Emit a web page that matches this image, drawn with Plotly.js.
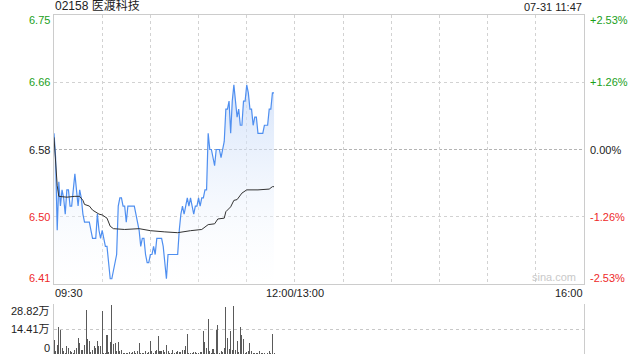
<!DOCTYPE html>
<html>
<head>
<meta charset="utf-8">
<script src="https://cdn.plot.ly/plotly-3.0.1.min.js"></script>
<style>html,body{margin:0;padding:0;background:#fff;}#chart{width:640px;height:360px;}</style>
</head>
<body>
<div id="chart"></div>
<script>
// ---- data ----
const titleText = '02158 医渡科技';
const stampText = '07-31 11:47';
const prevClose = 6.58;
// per-minute last price from 09:30 (minute 0) to 11:47 (minute 137)
const price = [
 6.60,6.57,6.48,6.54,6.51,6.53,6.52,6.50,6.53,6.53,
 6.51,6.51,6.53,6.55,6.53,6.51,6.53,6.52,6.50,6.49,
 6.49,6.49,6.49,6.48,6.47,6.47,6.47,6.50,6.48,6.47,
 6.48,6.47,6.46,6.46,6.44,6.42,6.42,6.43,6.44,6.45,
 6.51,6.52,6.52,6.51,6.51,6.49,6.51,6.51,6.51,6.51,
 6.51,6.50,6.49,6.48,6.46,6.47,6.47,6.45,6.44,6.44,
 6.45,6.45,6.46,6.45,6.47,6.47,6.47,6.47,6.46,6.44,
 6.42,6.45,6.45,6.45,6.45,6.45,6.45,6.45,6.48,6.50,
 6.51,6.50,6.51,6.52,6.51,6.52,6.51,6.50,6.51,6.51,
 6.52,6.51,6.52,6.52,6.53,6.53,6.60,6.58,6.58,6.57,
 6.56,6.58,6.58,6.58,6.57,6.58,6.59,6.63,6.63,6.64,
 6.60,6.64,6.66,6.64,6.62,6.63,6.61,6.61,6.64,6.64,
 6.66,6.65,6.63,6.63,6.61,6.62,6.62,6.60,6.60,6.60,
 6.60,6.61,6.61,6.61,6.63,6.63,6.65,6.65
];
// average price line, read at these minutes
const avgMinutes = [0,1,2,3,8,13,16,18,19,22,24,28,30,33,35,37,44,53,60,69,77,85,92,96,100,102,106,107,110,112,114,117,120,127,134,136,137];
const avgPrice   = [6.595,6.56,6.535,6.522,6.521,6.522,6.522,6.517,6.512,6.510,6.505,6.500,6.499,6.495,6.485,6.482,6.481,6.482,6.4795,6.478,6.477,6.4795,6.481,6.487,6.488,6.494,6.495,6.503,6.509,6.517,6.518,6.526,6.530,6.530,6.531,6.534,6.534];
// per-minute volume, in 万
const volume = [
 8.3,2.0,5.4,15.7,14.1,3.5,1.5,0.6,4.8,3.5,
 1.5,1.2,0.6,2.5,3.5,9.3,6.4,2.5,2.5,5.4,
 25.7,8.9,7.7,1.0,2.5,4.4,3.5,7.7,4.4,4.4,
 25.1,0.6,0.6,11.2,1.0,7.0,28.6,5.8,6.4,1.5,
 7.0,1.9,2.1,0.6,0.4,0.8,0.6,1.2,0.6,1.0,
 1.5,0.6,1.5,6.4,0.4,0.6,0.6,1.5,0.4,1.2,
 7.3,1.5,0.6,1.5,2.5,10.2,1.9,1.5,2.5,1.0,
 5.4,1.5,0.8,0.6,2.5,0.6,1.0,1.5,1.2,1.2,
 2.5,2.5,4.8,11.6,0.6,0.6,0.6,1.2,1.2,0.6,
 0.6,1.2,1.2,13.1,6.8,3.5,20.5,1.5,0.6,3.1,
 0.6,14.1,16.6,0.6,1.5,1.2,3.5,27.3,9.3,3.1,
 13.5,2.5,28.1,2.5,7.7,1.2,15.5,11.2,8.9,0.6,
 1.0,1.9,6.4,1.5,0.6,0.6,0.6,0.6,1.5,0.6,
 0.6,0.6,0.2,0.6,1.5,0.6,11.6,0.6
];
const sessionMinutes = 330; // 09:30-12:00 + 13:00-16:00
const xTickLabels = ['09:30','12:00/13:00','16:00'];
const xTickMinutes = [0,150,330];
const priceTickVals = [6.7465,6.6633,6.58,6.4967,6.4135];
const priceTickText = ['6.75','6.66','6.58','6.50','6.41'];
const pctTickText = ['+2.53%','+1.26%','0.00%','-1.26%','-2.53%'];
const volTickVals = [28.82,14.41,0];
const volTickText = ['28.82万','14.41万','0'];

// ---- styling ----
const GREEN = '#1aa01a', RED = '#ee2a2a', BLACK = '#222';
const FONT = '"Liberation Sans", Arial, "Noto Sans CJK SC", sans-serif';
const tickColor = v => v > prevClose + 1e-6 ? GREEN : (v < prevClose - 1e-6 ? RED : BLACK);
// labels at the top edge go down, labels at the bottom edge go up
const edgeShift = (i, n, top, bottom) => i === 0 ? -top : (i === n - 1 ? bottom : 0);

const minutesIdx = price.map((_, i) => i);
const volIdx = volume.map((_, i) => i);
const yMin = priceTickVals[priceTickVals.length - 1], yMax = priceTickVals[0];

const traces = [
  {x: minutesIdx, y: price, type: 'scatter', mode: 'lines', xaxis: 'x', yaxis: 'y',
   line: {color: '#4f8ff0', width: 1.2}, fill: 'tozeroy',
   fillgradient: {type: 'vertical', start: yMin, stop: 6.67,
     colorscale: [[0, 'rgba(255,255,255,0.2)'], [1, 'rgba(196,216,248,0.75)']]},
   hoverinfo: 'skip'},
  {x: avgMinutes, y: avgPrice, type: 'scatter', mode: 'lines', xaxis: 'x', yaxis: 'y',
   line: {color: '#333333', width: 1}, hoverinfo: 'skip'},
  {x: volIdx, y: volume, type: 'bar', xaxis: 'x2', yaxis: 'y2',
   marker: {color: '#5a5a5a', line: {width: 0}}, width: 0.65, hoverinfo: 'skip'}
];

const annotations = [];
annotations.push({text: titleText, xref: 'paper', yref: 'paper', x: 0, y: 1, xanchor: 'left', yanchor: 'bottom',
  xshift: -1, yshift: 0, showarrow: false, font: {family: FONT, size: 12, color: '#222'}});
annotations.push({text: stampText, xref: 'paper', yref: 'paper', x: 1, y: 1, xanchor: 'right', yanchor: 'bottom',
  xshift: 0, yshift: 0, showarrow: false, font: {family: FONT, size: 11, color: '#222'}});
priceTickVals.forEach((v, i) => {
  const c = tickColor(v), ys = edgeShift(i, priceTickVals.length, 5, 6);
  annotations.push({text: priceTickText[i], xref: 'paper', yref: 'y', x: 0, y: v, xanchor: 'right', yanchor: 'middle',
    xshift: -2, yshift: ys, showarrow: false, font: {family: FONT, size: 11, color: c}});
  annotations.push({text: pctTickText[i], xref: 'paper', yref: 'y', x: 1, y: v, xanchor: 'left', yanchor: 'middle',
    xshift: 4, yshift: ys, showarrow: false, font: {family: FONT, size: 11, color: c}});
});
volTickVals.forEach((v, i) => {
  annotations.push({text: volTickText[i], xref: 'paper', yref: 'y2', x: 0, y: v, xanchor: 'right', yanchor: 'middle',
    xshift: -2, yshift: edgeShift(i, volTickVals.length, 7, 6), showarrow: false,
    font: {family: FONT, size: 11, color: '#222'}});
});
const xAnchors = ['left', 'center', 'right'];
xTickMinutes.forEach((m, i) => {
  annotations.push({text: xTickLabels[i], xref: 'x', yref: 'y domain', x: m, y: 0, xanchor: xAnchors[i], yanchor: 'top',
    xshift: i === 0 ? -1 : (i === 2 ? 1 : 0), yshift: -1, showarrow: false, font: {family: FONT, size: 11, color: '#222'}});
});
annotations.push({text: 'sina.com', xref: 'paper', yref: 'y', x: 1, y: yMin, xanchor: 'right', yanchor: 'bottom',
  xshift: -6, yshift: -1, showarrow: false, font: {family: FONT, size: 11, color: '#c9c9c9'}});

const layout = {
  width: 640, height: 360,
  margin: {l: 54, r: 56, t: 15, b: 6},
  paper_bgcolor: '#fff', plot_bgcolor: '#fff',
  showlegend: false, bargap: 0,
  xaxis: {domain: [0, 1], range: [0, sessionMinutes], anchor: 'y', tick0: 0, dtick: 30,
    showgrid: true, gridcolor: '#d2d2d2', griddash: 'dot', gridwidth: 1,
    showticklabels: false, ticks: '', zeroline: false,
    showline: true, mirror: true, linecolor: '#cccccc', linewidth: 1},
  yaxis: {domain: [0.2065, 1], range: [yMin, yMax], anchor: 'x',
    tickmode: 'array', tickvals: [priceTickVals[1], priceTickVals[3]],
    showgrid: true, gridcolor: '#d2d2d2', griddash: 'dot', gridwidth: 1,
    showticklabels: false, ticks: '', zeroline: false,
    showline: true, mirror: true, linecolor: '#cccccc', linewidth: 1},
  xaxis2: {domain: [0, 1], range: [0, sessionMinutes], anchor: 'y2',
    showgrid: false, showticklabels: false, ticks: '', zeroline: false, showline: false},
  yaxis2: {domain: [0, 0.1466], range: [0, volTickVals[0]], anchor: 'x2',
    tickmode: 'array', tickvals: volTickVals,
    showgrid: true, gridcolor: '#c8c8c8', griddash: 'dot', gridwidth: 1,
    showticklabels: false, ticks: '', zeroline: false,
    showline: true, mirror: true, linecolor: '#cccccc', linewidth: 1},
  shapes: [
    {type: 'line', xref: 'paper', x0: 0, x1: 1, yref: 'y', y0: prevClose, y1: prevClose,
     line: {color: '#b4b4b4', width: 1, dash: '3px,2px'}, layer: 'below'}
  ],
  annotations: annotations
};

Plotly.newPlot('chart', traces, layout, {staticPlot: true, displayModeBar: false});
</script>
</body>
</html>
